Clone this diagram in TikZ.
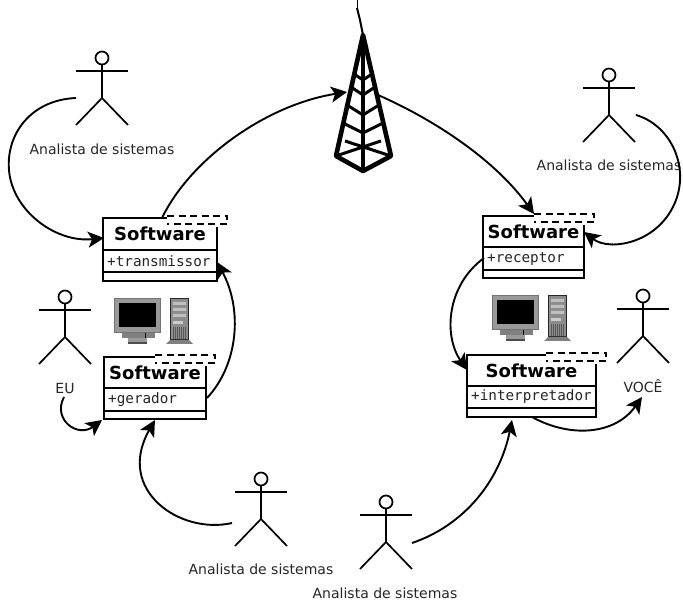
\documentclass[tikz,border=0pt]{standalone}
\usepackage{fontspec}
\setmainfont{DejaVu Sans}
\setmonofont{DejaVu Sans Mono}
\usetikzlibrary{arrows.meta}
\tikzset{
 x=1pt,y=-1pt,
 actorline/.style={line width=1.7pt,black},
 lbl/.style={font=\fontsize{14}{16}\selectfont,inner sep=0pt,text=black!85},
 cls/.style={line width=2.2pt,draw=black},
 tab/.style={line width=2pt,draw=black,dash pattern=on 7pt off 4.5pt},
 title/.style={font=\fontsize{18}{20}\selectfont\bfseries,inner sep=0pt},
 attr/.style={font=\fontsize{14.3}{16}\ttfamily,inner sep=0pt,anchor=west,text=black!85},
 flow/.style={line width=1.9pt,-{Stealth[length=16pt,width=16pt,inset=4pt]}},
 tw/.style={line width=4.6pt,line join=round},
 tws/.style={line width=3pt},
}
\newcommand{\actor}[3]{% name, x, y of head centre
 \begin{scope}[shift={(#2,#3)}]
 \node[circle,draw=black,line width=1.7pt,minimum size=13pt,inner sep=0pt] (#1) at (0,0) {};
 \draw[actorline] (#1.south) -- (0,40) coordinate (#1hip) (-26,13) -- (26,13);
 \draw[actorline] (-26,67) -- (#1hip) -- (26,67);
 \end{scope}}
\newcommand{\umlbox}[8]{% name,x1,x2,ytop,y1,y2,ybot,tabx
 \fill[white] (#2,#4) rectangle (#3,#7);
 \draw[cls] (#8,#4) -- (#2,#4) -- (#2,#7) -- (#3,#7) -- (#3,#4+9);
 \draw[cls] (#2,#5) -- (#3,#5) (#2,#6) -- (#3,#6);
 \coordinate (#1attr) at (#2+4,{(#5+#6)/2});
 \node[title] (#1t) at ({(#2+#3)/2},{(#4+#5)/2}) {Software};
 \draw[tab] (#8,#4-2) -- ++(60,0) -- ++(0,8.5) -- ++(-60,0);
}
\newcommand{\computer}[2]{%
 \begin{scope}[shift={(#1,#2)}]
 \fill[black!55] (-1,0) rectangle (46,35);
 \fill[black!40] (0,1) rectangle (45,34);
 \fill[black] (4,5) rectangle (41,29);
 \fill[black!50] (7,35) rectangle (40,40);
 \draw[black,line width=.6pt] (30,35) -- (30,41);
 \fill[black!40] (13,40) rectangle (32,46);
 \fill[black!70] (13,44) rectangle (32,46);
 % tower
 \fill[black!45] (55,0) rectangle (74,42);
 \draw[line width=1.2pt,black!85] (55.5,0.5) rectangle (73.5,42);
 \fill[black!25] (58,4) rectangle (71,7) (58,10) rectangle (71,13) (58,16) rectangle (71,19);
 \fill[black!20] (58,23) rectangle (68,26);
 \foreach \k in {58.5,60.5,...,70.5} \draw[black!65,line width=.6pt] (\k,29) -- (\k,41);
 \fill[black!50] (51,46) -- (55,42) -- (74,42) -- (78,46) -- cycle;
 \end{scope}}
\begin{document}
\begin{tikzpicture}
\useasboundingbox (0,0) rectangle (683,601);
\fill[white] (0,0) rectangle (683,601);
% tower
\coordinate (apex) at (363,35);
\coordinate (bl) at (336,156);
\coordinate (br) at (391,156);
\coordinate (bc) at (363,171);
\draw[line width=2pt] (357,8) -- (360,20) -- (363,35);
\draw[line width=1pt] (357,0) -- (357,8);
\draw[tw] (bl) -- (apex) -- (br) -- (bc) -- cycle;
\draw[tw] (apex) -- (bc);
\draw[tws] (bl) -- (381,141) (br) -- (345,141);
\draw[tws] (354,74) -- (363,80) -- (372,74);
\draw[tws] (351,87) -- (363,95) -- (375,87);
\draw[tws] (347,105) -- (363,115) -- (379,105);
\draw[tws] (343,123) -- (363,133) -- (383,123);
% actors
\actor{aa}{102}{58}
\actor{ab}{609}{75}
\actor{eu}{65}{297}
\actor{vc}{643}{296}
\actor{ac}{261}{479}
\actor{ad}{386}{502}
\node[lbl] (la) at (102,149) {Analista de sistemas};
\node[lbl] (lb) at (609,165) {Analista de sistemas};
\node[lbl] (leu) at (65,388) {EU};
\node[lbl] (lvc) at (643,386) {VOCÊ};
\node[lbl] (lc) at (261,569) {Analista de sistemas};
\node[lbl] (ld) at (385,593) {Analista de sistemas};
% computers
\computer{115}{298}
\computer{493}{295}
% boxes
\umlbox{tr}{103}{217}{218}{250}{272}{281}{167}
\node[attr] (trx) at (trattr) {+transmissor};
\umlbox{ge}{104}{206}{357}{388}{411}{419}{155}
\node[attr] (gex) at (geattr) {+gerador};
\umlbox{re}{483}{584}{216}{247}{270}{278}{534}
\node[attr] (rex) at (reattr) {+receptor};
\umlbox{in}{467}{596}{355}{386}{408}{417}{546}
\node[attr] (inx) at (inattr) {+interpretador};
% arrows
\coordinate (s1) at (76,98); \coordinate (e1) at (104,238);
\draw[flow] (s1) .. controls (30,100) and (6,135) .. (9,170) .. controls (12,210) and (55,243) .. (e1);
\coordinate (s2) at (162,218); \coordinate (e2) at (347,92);
\draw[flow] (s2) .. controls (190,160) and (265,105) .. (e2);
\coordinate (s3) at (378,95); \coordinate (e3) at (534,214);
\draw[flow] (s3) .. controls (435,120) and (495,160) .. (e3);
\coordinate (s4) at (636,115); \coordinate (e4) at (584,232);
\draw[flow] (s4) .. controls (670,125) and (689,165) .. (676,200) .. controls (660,243) and (610,252) .. (e4);
\coordinate (s5) at (484,258); \coordinate (e5) at (467,370);
\draw[flow] (s5) .. controls (447,285) and (443,335) .. (e5);
\coordinate (s6) at (207,398); \coordinate (e6) at (217,262);
\draw[flow] (s6) .. controls (238,365) and (243,310) .. (e6);
\coordinate (s7) at (64,397); \coordinate (e7) at (102,420);
\draw[flow] (s7) .. controls (52,420) and (78,438) .. (e7);
\coordinate (s8) at (232,523); \coordinate (e8) at (155,420);
\draw[flow] (s8) .. controls (180,535) and (115,490) .. (e8);
\coordinate (s9) at (412,543); \coordinate (e9) at (512,420);
\draw[flow] (s9) .. controls (465,525) and (500,480) .. (e9);
\coordinate (s10) at (532,417); \coordinate (e10) at (642,397);
\draw[flow] (s10) .. controls (570,438) and (615,435) .. (e10);
\end{tikzpicture}
\end{document}
